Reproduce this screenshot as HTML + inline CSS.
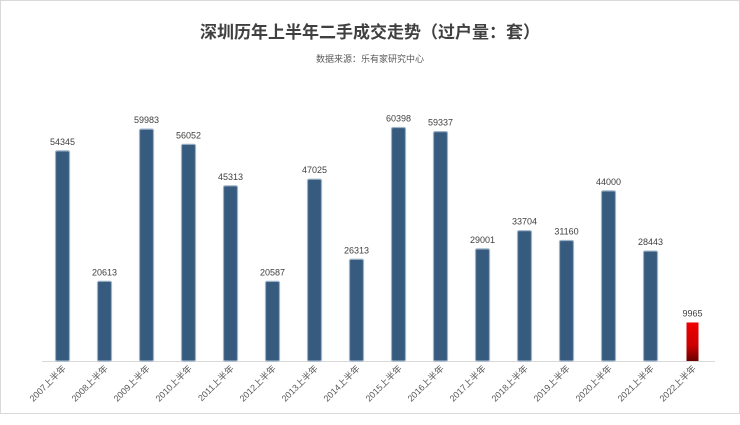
<!DOCTYPE html>
<html><head><meta charset="utf-8"><style>
body{margin:0;background:#fff;}
svg text{font-family:"Liberation Sans","Noto Sans CJK SC",sans-serif;}
</style></head><body>
<svg width="740" height="420" xmlns="http://www.w3.org/2000/svg">
<defs>
<linearGradient id="r" x1="0" y1="0" x2="0" y2="1"><stop offset="0" stop-color="#ee0000"/><stop offset="0.6" stop-color="#cc0000"/><stop offset="1" stop-color="#6a0000"/></linearGradient>
</defs>
<rect x="0.5" y="0.5" width="739" height="413" fill="#fff" stroke="#d9d9d9"/>
<text x="370" y="38" text-anchor="middle" font-size="17" font-weight="bold" fill="#404040">深圳历年上半年二手成交走势（过户量：套）</text>
<text x="370" y="62" text-anchor="middle" font-size="9" fill="#595959">数据来源：乐有家研究中心</text>
<line x1="42" y1="361.5" x2="715" y2="361.5" stroke="#d9d9d9" stroke-width="1"/>
<g id="bars"></g>
</svg>
<script>
var v=[54345,20613,59983,56052,45313,20587,47025,26313,60398,59337,29001,33704,31160,44000,28443,9965];
var g=document.getElementById('bars'),s='';
for(var i=0;i<16;i++){var cx=62.5+42*i,h=v[i]*0.003866,y=361-h;
if(i<15)s+='<rect x="'+(cx-7)+'" y="'+y+'" width="14" height="'+h+'" rx="1.5" fill="#375a7f" stroke="#9db3c9" stroke-width="1.2"/>';
else s+='<rect x="'+(cx-6)+'" y="'+y+'" width="12" height="'+h+'" fill="url(#r)"/>';
s+='<text x="'+cx+'" y="'+(y-6)+'" text-anchor="middle" font-size="9" fill="#404040">'+v[i]+'</text>';
s+='<text transform="translate('+(cx+4)+',369) rotate(-45)" text-anchor="end" font-size="9" fill="#595959">'+(2007+i)+'上半年</text>';}
g.innerHTML=s;
</script>
</body></html>
